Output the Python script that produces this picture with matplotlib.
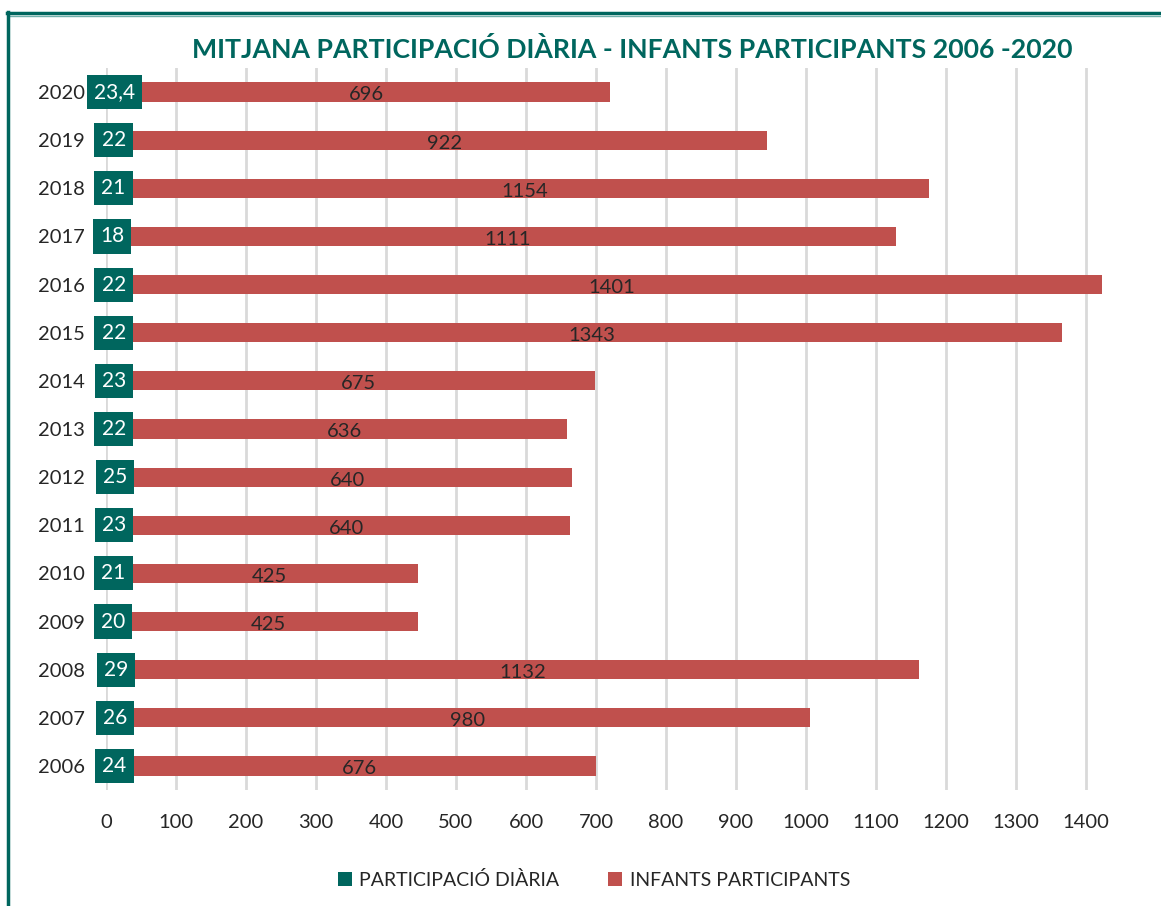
import matplotlib.pyplot as plt
from matplotlib.lines import Line2D
import matplotlib as mpl

mpl.rcParams['font.family'] = ['Lato', 'DejaVu Sans']

# mitjana participació diària i infants participants per any
anys = ['2006', '2007', '2008', '2009', '2010', '2011', '2012', '2013',
        '2014', '2015', '2016', '2017', '2018', '2019', '2020']
participacio = [24, 26, 29, 20, 21, 23, 25, 22, 23, 22, 22, 18, 21, 22, 23.4]
infants = [676, 980, 1132, 425, 425, 640, 640, 636, 675, 1343, 1401, 1111, 1154, 922, 696]
ticks_x = [0, 100, 200, 300, 400, 500, 600, 700, 800, 900, 1000, 1100, 1200, 1300, 1400]

teal = '#00665E'
vermell = '#C0504D'
gris = '#D9D9D9'
text_col = '#262626'

W, H = 1161, 906
fig = plt.figure(figsize=(W / 100, H / 100), dpi=100)
ax = fig.add_axes([106 / W, 1 - 790 / H, 1015 / W, 722 / H])

pos = list(range(len(anys)))
b1 = ax.barh(pos, participacio, height=0.4, color=teal, label='PARTICIPACIÓ DIÀRIA', zorder=3)
b2 = ax.barh(pos, infants, left=participacio, height=0.4, color=vermell,
             label='INFANTS PARTICIPANTS', zorder=3)

def fmt(v):
    s = ('%.1f' % v).replace('.', ',')
    return s[:-2] if s.endswith(',0') else s

for i in pos:
    p = participacio[i]
    ax.text(p / 2, i, fmt(p), ha='center', va='center', color='white', fontsize=15,
            zorder=5, clip_on=False,
            bbox=dict(boxstyle='square,pad=0.34', facecolor=teal, edgecolor='none'))
    ax.text(p + infants[i] / 2, i - 0.06, str(infants[i]), ha='center', va='center',
            color=text_col, fontsize=14.5, zorder=5)

ax.set_xlim(0, 1450)
ax.set_ylim(-0.5, len(anys) - 0.5)
ax.set_yticks(pos)
ax.set_yticklabels(anys)
ax.set_xticks(ticks_x)
ax.tick_params(axis='y', length=0, pad=15, labelsize=14.5, labelcolor=text_col)
ax.tick_params(axis='x', length=0, pad=17, labelsize=14.5, labelcolor=text_col)
ax.grid(axis='x', color=gris, linewidth=2, zorder=0)
for s in ax.spines.values():
    s.set_visible(False)

fig.text(632 / W, 1 - 49 / H, 'MITJANA PARTICIPACIÓ DIÀRIA - INFANTS PARTICIPANTS 2006 -2020',
         ha='center', va='center', color=teal, fontsize=19.2, fontweight='bold')

fig.legend(handles=[b1, b2], loc='center', bbox_to_anchor=(594 / W, 1 - 880 / H),
           ncol=2, frameon=False, fontsize=14, handlelength=0.7, handleheight=0.7,
           handletextpad=0.4, columnspacing=2.5, labelcolor=text_col)

# marc de la diapositiva
fig.add_artist(Line2D([7 / W, 1], [1 - 13 / H, 1 - 13 / H], color=teal, linewidth=2.5))
fig.add_artist(Line2D([9 / W, 1], [1 - 15.5 / H, 1 - 15.5 / H], color='#6FAFAA', linewidth=1))
fig.add_artist(Line2D([8 / W, 8 / W], [0, 1 - 12 / H], color=teal, linewidth=2.5))

fig.savefig('out.png', dpi=100, facecolor='white')
